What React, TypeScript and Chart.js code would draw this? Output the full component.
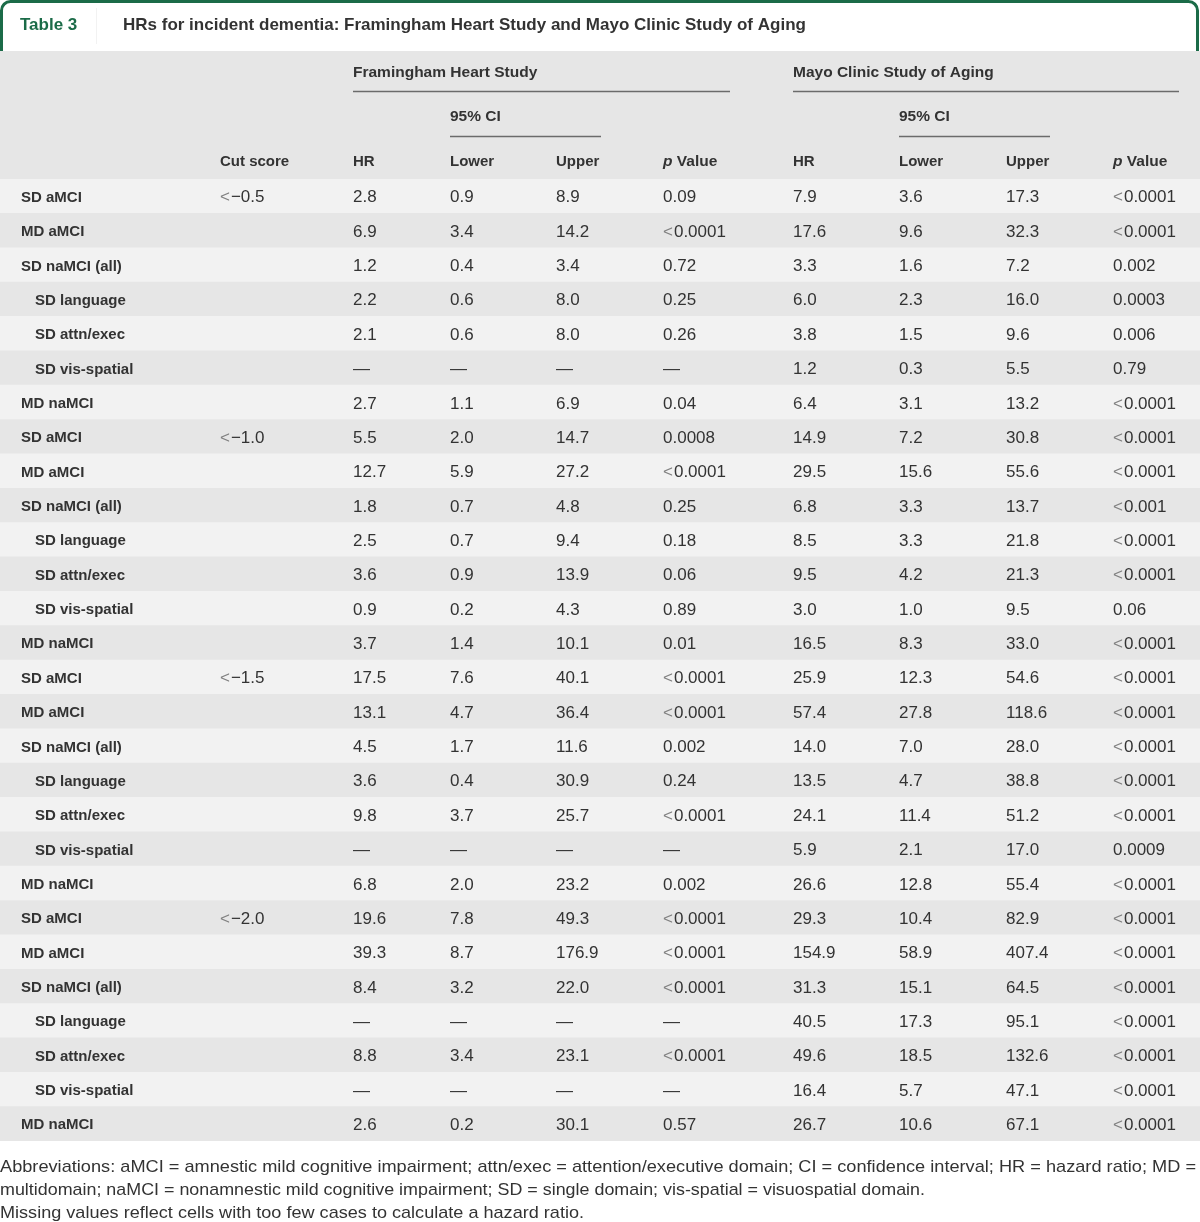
import React, { useEffect, useRef } from "react";
import { Chart, registerables } from "chart.js";
Chart.register(...registerables);

const titleLabel = "Table 3";
const titleText = "HRs for incident dementia: Framingham Heart Study and Mayo Clinic Study of Aging";
const studies = ["Framingham Heart Study", "Mayo Clinic Study of Aging"];
const columnHeaders = ["Cut score", "HR", "Lower", "Upper", "p Value", "HR", "Lower", "Upper", "p Value"];

const rowLabels = [
  "SD aMCI", "MD aMCI", "SD naMCI (all)", "SD language", "SD attn/exec", "SD vis-spatial", "MD naMCI",
  "SD aMCI", "MD aMCI", "SD naMCI (all)", "SD language", "SD attn/exec", "SD vis-spatial", "MD naMCI",
  "SD aMCI", "MD aMCI", "SD naMCI (all)", "SD language", "SD attn/exec", "SD vis-spatial", "MD naMCI",
  "SD aMCI", "MD aMCI", "SD naMCI (all)", "SD language", "SD attn/exec", "SD vis-spatial", "MD naMCI",
];
const indentedRows = [
  false, false, false, true, true, true, false,
  false, false, false, true, true, true, false,
  false, false, false, true, true, true, false,
  false, false, false, true, true, true, false,
];
const cutScores = [
  "<\u22120.5", "", "", "", "", "", "",
  "<\u22121.0", "", "", "", "", "", "",
  "<\u22121.5", "", "", "", "", "", "",
  "<\u22122.0", "", "", "", "", "", "",
];

const fhsHR = [
  2.8, 6.9, 1.2, 2.2, 2.1, null, 2.7,
  5.5, 12.7, 1.8, 2.5, 3.6, 0.9, 3.7,
  17.5, 13.1, 4.5, 3.6, 9.8, null, 6.8,
  19.6, 39.3, 8.4, null, 8.8, null, 2.6,
];
const fhsLower = [
  0.9, 3.4, 0.4, 0.6, 0.6, null, 1.1,
  2.0, 5.9, 0.7, 0.7, 0.9, 0.2, 1.4,
  7.6, 4.7, 1.7, 0.4, 3.7, null, 2.0,
  7.8, 8.7, 3.2, null, 3.4, null, 0.2,
];
const fhsUpper = [
  8.9, 14.2, 3.4, 8.0, 8.0, null, 6.9,
  14.7, 27.2, 4.8, 9.4, 13.9, 4.3, 10.1,
  40.1, 36.4, 11.6, 30.9, 25.7, null, 23.2,
  49.3, 176.9, 22.0, null, 23.1, null, 30.1,
];
const fhsP = [
  "0.09", "<0.0001", "0.72", "0.25", "0.26", "\u2014", "0.04",
  "0.0008", "<0.0001", "0.25", "0.18", "0.06", "0.89", "0.01",
  "<0.0001", "<0.0001", "0.002", "0.24", "<0.0001", "\u2014", "0.002",
  "<0.0001", "<0.0001", "<0.0001", "\u2014", "<0.0001", "\u2014", "0.57",
];
const mayoHR = [
  7.9, 17.6, 3.3, 6.0, 3.8, 1.2, 6.4,
  14.9, 29.5, 6.8, 8.5, 9.5, 3.0, 16.5,
  25.9, 57.4, 14.0, 13.5, 24.1, 5.9, 26.6,
  29.3, 154.9, 31.3, 40.5, 49.6, 16.4, 26.7,
];
const mayoLower = [
  3.6, 9.6, 1.6, 2.3, 1.5, 0.3, 3.1,
  7.2, 15.6, 3.3, 3.3, 4.2, 1.0, 8.3,
  12.3, 27.8, 7.0, 4.7, 11.4, 2.1, 12.8,
  10.4, 58.9, 15.1, 17.3, 18.5, 5.7, 10.6,
];
const mayoUpper = [
  17.3, 32.3, 7.2, 16.0, 9.6, 5.5, 13.2,
  30.8, 55.6, 13.7, 21.8, 21.3, 9.5, 33.0,
  54.6, 118.6, 28.0, 38.8, 51.2, 17.0, 55.4,
  82.9, 407.4, 64.5, 95.1, 132.6, 47.1, 67.1,
];
const mayoP = [
  "<0.0001", "<0.0001", "0.002", "0.0003", "0.006", "0.79", "<0.0001",
  "<0.0001", "<0.0001", "<0.001", "<0.0001", "<0.0001", "0.06", "<0.0001",
  "<0.0001", "<0.0001", "<0.0001", "<0.0001", "<0.0001", "0.0009", "<0.0001",
  "<0.0001", "<0.0001", "<0.0001", "<0.0001", "<0.0001", "<0.0001", "<0.0001",
];
const footnotes = [
  "Abbreviations: aMCI = amnestic mild cognitive impairment; attn/exec = attention/executive domain; CI = confidence interval; HR = hazard ratio; MD =",
  "multidomain; naMCI = nonamnestic mild cognitive impairment; SD = single domain; vis-spatial = visuospatial domain.",
  "Missing values reflect cells with too few cases to calculate a hazard ratio.",
];

const FONT = '"Liberation Sans", Arial, sans-serif';
const TEXT = "#333333";
const GREEN = "#1b6b48";
const HEADER_BG = "#e6e6e6";
const ROW_LIGHT = "#f2f2f2";
const ROW_DARK = "#e6e6e6";
// column left edges (x-scale units = px)
const colX = [21, 220, 353, 450, 556, 663, 793, 899, 1006, 1113];
const footnoteWidths = [1196, 925, 584];

const fmt = (v: number | null) => (v === null ? "\u2014" : v.toFixed(1));

const tablePlugin = {
  id: "tablePlugin",
  beforeDraw(chart: any) {
    const ctx = chart.ctx as CanvasRenderingContext2D;
    ctx.save();
    ctx.fillStyle = "#ffffff";
    ctx.fillRect(0, 0, chart.width, chart.height);
    ctx.fillStyle = HEADER_BG;
    ctx.fillRect(0, 51, chart.width, chart.chartArea.top - 51);
    ctx.strokeStyle = GREEN;
    ctx.lineWidth = 3;
    const r = 9;
    ctx.beginPath();
    ctx.moveTo(1.5, 51);
    ctx.lineTo(1.5, 1.5 + r);
    ctx.arcTo(1.5, 1.5, 1.5 + r, 1.5, r);
    ctx.lineTo(1197.5 - r, 1.5);
    ctx.arcTo(1197.5, 1.5, 1197.5, 1.5 + r, r);
    ctx.lineTo(1197.5, 51);
    ctx.stroke();
    ctx.strokeStyle = "#f2f2f2";
    ctx.lineWidth = 1;
    ctx.beginPath();
    ctx.moveTo(96.5, 8);
    ctx.lineTo(96.5, 44);
    ctx.stroke();
    ctx.textBaseline = "middle";
    ctx.textAlign = "left";
    ctx.fillStyle = GREEN;
    ctx.font = `bold 17px ${FONT}`;
    ctx.fillText(titleLabel, 20, 25);
    ctx.fillStyle = TEXT;
    ctx.fillText(titleText, 123, 25);
    ctx.restore();
  },
  afterDatasetsDraw(chart: any) {
    const ctx = chart.ctx as CanvasRenderingContext2D;
    const xs = chart.scales.x;
    const ys = chart.scales.y;
    const px = (c: number) => xs.getPixelForValue(colX[c]);
    ctx.save();
    ctx.textBaseline = "middle";
    ctx.textAlign = "left";
    ctx.fillStyle = TEXT;

    ctx.font = `bold 15.5px ${FONT}`;
    const studyStart = [2, 6];
    const studyEnd = [730, 1179];
    studies.forEach((s, k) => {
      const x0 = px(studyStart[k]);
      ctx.fillStyle = TEXT;
      ctx.fillText(s, x0, 73);
      ctx.fillText("95% CI", px(studyStart[k] + 1), 117);
      ctx.strokeStyle = "#6b6b6b";
      ctx.lineWidth = 1.5;
      ctx.beginPath();
      ctx.moveTo(x0, 91.5);
      ctx.lineTo(xs.getPixelForValue(studyEnd[k]), 91.5);
      ctx.stroke();
      ctx.beginPath();
      ctx.moveTo(px(studyStart[k] + 1), 136.5);
      ctx.lineTo(px(studyStart[k] + 1) + 151, 136.5);
      ctx.stroke();
    });
    columnHeaders.forEach((h, c) => {
      const x = px(c + 1);
      if (h.startsWith("p ")) {
        ctx.font = `italic bold 15.5px ${FONT}`;
        ctx.fillText("p", x, 162);
        const w = ctx.measureText("p").width;
        ctx.font = `bold 15.5px ${FONT}`;
        ctx.fillText(h.slice(1), x + w, 162);
      } else {
        ctx.font = `bold 15px ${FONT}`;
        ctx.fillText(h, x, 162);
      }
    });

    rowLabels.forEach((label, i) => {
      const y = ys.getPixelForValue(i) + 1.5;
      ctx.fillStyle = TEXT;
      ctx.font = `bold 15px ${FONT}`;
      ctx.fillText(label, px(0) + (indentedRows[i] ? 14 : 0), y);
      ctx.font = `17px ${FONT}`;
      const cells = [
        cutScores[i],
        fmt(fhsHR[i]), fmt(fhsLower[i]), fmt(fhsUpper[i]), fhsP[i],
        fmt(mayoHR[i]), fmt(mayoLower[i]), fmt(mayoUpper[i]), mayoP[i],
      ];
      cells.forEach((t, c) => {
        if (!t) return;
        let x = px(c + 1);
        if (t.startsWith("<")) {
          ctx.fillStyle = "#808080";
          ctx.fillText("<", x, y);
          x += ctx.measureText("<").width + 1;
          ctx.fillStyle = TEXT;
          t = t.slice(1);
        }
        ctx.fillText(t, x, y);
      });
    });

    ctx.font = `17px ${FONT}`;
    ctx.fillStyle = TEXT;
    const fy = [1167, 1190, 1213];
    footnotes.forEach((f, k) => {
      const w = ctx.measureText(f).width;
      ctx.save();
      ctx.translate(0, fy[k]);
      ctx.scale(footnoteWidths[k] / w, 1);
      ctx.fillText(f, 0, 0);
      ctx.restore();
    });
    ctx.restore();
  },
};

export default function App() {
  const ref = useRef<HTMLCanvasElement | null>(null);
  useEffect(() => {
    document.body.style.margin = "0";
    if (!ref.current) return;
    const chart = new Chart(ref.current, {
      type: "bar",
      data: {
        labels: rowLabels.map((l, i) => `${i}:${l}`),
        datasets: [
          {
            data: rowLabels.map(() => [0, 1200]) as any,
            backgroundColor: rowLabels.map((_, i) => (i % 2 === 0 ? ROW_LIGHT : ROW_DARK)),
            borderWidth: 0,
            barPercentage: 1,
            categoryPercentage: 1,
          },
        ],
      },
      options: {
        indexAxis: "y",
        responsive: false,
        animation: false,
        devicePixelRatio: 1,
        layout: { padding: { top: 179, bottom: 81, left: 0, right: 0 } },
        plugins: { legend: { display: false }, tooltip: { enabled: false }, title: { display: false } },
        scales: {
          x: { type: "linear", min: 0, max: 1200, display: false },
          y: { type: "category", display: false, offset: true },
        },
      },
      plugins: [tablePlugin],
    });
    return () => chart.destroy();
  }, []);
  return <canvas ref={ref} width={1200} height={1222} style={{ display: "block" }} />;
}
